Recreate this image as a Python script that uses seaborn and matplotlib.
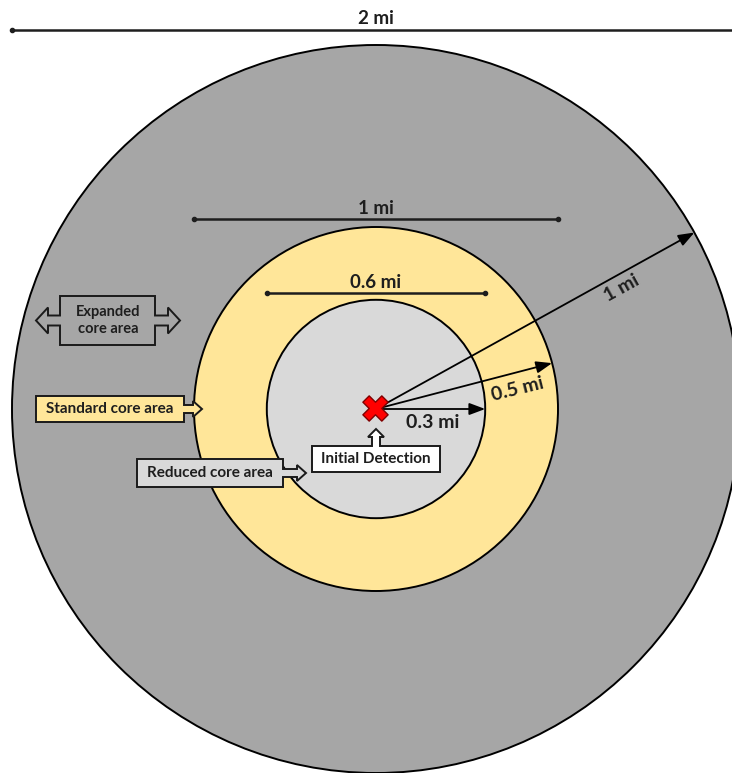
import numpy as np
import matplotlib
matplotlib.use("Agg")
import matplotlib.pyplot as plt
from matplotlib.patches import Circle, Polygon
import seaborn as sns

# zone radii (miles), from outside in
zone_names = ["Expanded core area", "Standard core area", "Reduced core area"]
zone_radii = [1.0, 0.5, 0.3]
zone_colors = ["#a6a6a6", "#ffe699", "#d9d9d9"]

# diameter dimension lines (miles) and their labels
diam_values = [2.0, 1.0, 0.6]
diam_labels = ["2 mi", "1 mi", "0.6 mi"]

# radius arrows (miles), angle above horizontal in degrees
radius_values = [1.0, 0.5, 0.3]
radius_angles = [29, 14.6, 0]
radius_labels = ["1 mi", "0.5 mi", "0.3 mi"]

detection_label = "Initial Detection"

sns.set_theme(style="white")
plt.rcParams["font.family"] = ["Lato", "DejaVu Sans"]

TXT = "#1e1e1e"
CX, CY = 376, 409      # centre in pixels
SCALE = 364            # pixels per mile

fig = plt.figure(figsize=(7.32, 7.73), dpi=100)
ax = fig.add_axes([0, 0, 1, 1])
ax.set_xlim(0, 732)
ax.set_ylim(773, 0)
ax.axis("off")

# concentric zones
for r, c in zip(zone_radii, zone_colors):
    ax.add_patch(Circle((CX, CY), r * SCALE, facecolor=c, edgecolor="black",
                        lw=1.4, zorder=1))

# diameter dimension lines
diam_y = [30, 219, 293]
diam_ty = [19, 209, 283]
for d, lab, y, ty in zip(diam_values, diam_labels, diam_y, diam_ty):
    half = d / 2 * SCALE
    ax.plot([CX - half, CX + half], [y, y], color=TXT, lw=1.8,
            marker="o", ms=3, zorder=3)
    ax.text(CX, ty, lab, ha="center", va="center", fontsize=13.5,
            fontweight="bold", color=TXT, zorder=4)

# radius arrows
lab_pos = [(622, 288), (518, 389), (433, 422)]
lab_rot = [29, 14, 0]
for r, ang, lab, (lx, ly), rot in zip(radius_values, radius_angles,
                                       radius_labels, lab_pos, lab_rot):
    a = np.radians(ang)
    ex = CX + r * SCALE * np.cos(a)
    ey = CY - r * SCALE * np.sin(a)
    ax.annotate("", xy=(ex, ey), xytext=(CX, CY),
                arrowprops=dict(arrowstyle="-|>,head_length=0.8,head_width=0.3",
                                color="black", lw=1.3, shrinkA=0, shrinkB=0),
                zorder=3)
    ax.text(lx, ly, lab, ha="center", va="center", rotation=rot,
            fontsize=14, fontweight="bold", color=TXT, zorder=4)

# initial detection marker
sns.scatterplot(x=[CX - 1], y=[CY - 1], marker="X", s=330, color="#ff0000",
                edgecolor="#800000", linewidth=1, ax=ax, zorder=5, legend=False)


def right_callout(x0, x1, y0, y1, tip):
    ym = (y0 + y1) / 2
    sh = 4
    hd = 8
    neck = tip - 9
    return [(x0, y0), (x1, y0), (x1, ym - sh), (neck, ym - sh), (neck, ym - hd),
            (tip, ym), (neck, ym + hd), (neck, ym + sh), (x1, ym + sh),
            (x1, y1), (x0, y1)]


def double_callout(x0, x1, y0, y1, ltip, rtip):
    ym = (y0 + y1) / 2
    sh = 5
    hd = 13
    ln = ltip + 12
    rn = rtip - 12
    return [(x0, y0), (x1, y0), (x1, ym - sh), (rn, ym - sh), (rn, ym - hd),
            (rtip, ym), (rn, ym + hd), (rn, ym + sh), (x1, ym + sh), (x1, y1),
            (x0, y1), (x0, ym + sh), (ln, ym + sh), (ln, ym + hd), (ltip, ym),
            (ln, ym - hd), (ln, ym - sh), (x0, ym - sh)]


def up_callout(x0, x1, y0, y1, tip):
    xm = (x0 + x1) / 2
    sh = 4
    hd = 8
    neck = tip + 8
    return [(x0, y0), (xm - sh, y0), (xm - sh, neck), (xm - hd, neck), (xm, tip),
            (xm + hd, neck), (xm + sh, neck), (xm + sh, y0), (x1, y0),
            (x1, y1), (x0, y1)]


shapes = [
    double_callout(60, 155, 296, 345, 36, 180),
    right_callout(36, 184, 396, 422, 202),
    right_callout(137, 283, 459, 487, 306),
    up_callout(312, 440, 446, 472, 429),
]
fills = zone_colors + ["white"]
texts = ["Expanded\ncore area", zone_names[1], zone_names[2], detection_label]
centres = [(108, 320.5), (110, 409), (210, 473), (376, 459)]
sizes = [10.5, 11, 11, 11]

for pts, fc, t, (tx, ty), fs in zip(shapes, fills, texts, centres, sizes):
    ax.add_patch(Polygon(pts, closed=True, facecolor=fc, edgecolor="#1a1a1a",
                         lw=1.4, zorder=6, joinstyle="miter"))
    ax.text(tx, ty, t, ha="center", va="center", fontsize=fs,
            fontweight="bold", color=TXT, linespacing=1.25, zorder=7)

fig.savefig("out.png", dpi=100)
